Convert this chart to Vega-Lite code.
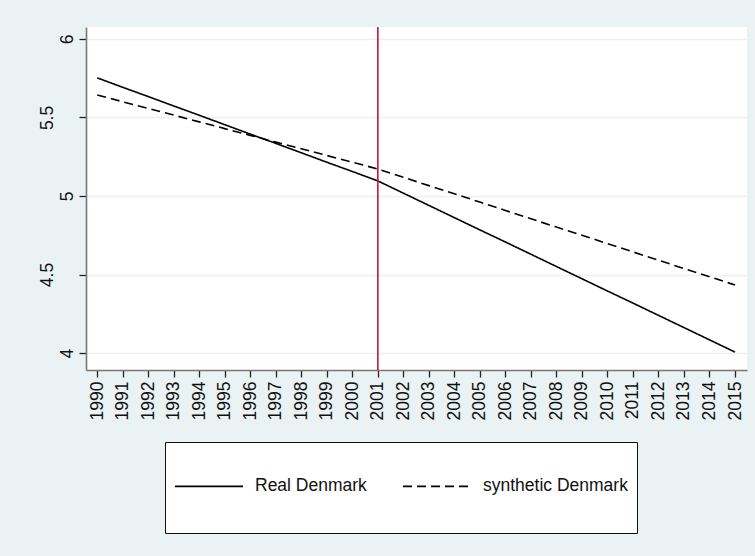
{
  "$schema": "https://vega.github.io/schema/vega-lite/v6.json",
  "autosize": {"type": "none"},
  "width": 661,
  "height": 343,
  "padding": {"left": 86, "top": 27, "right": 8, "bottom": 186},
  "background": "#EAF2F3",
  "config": {
    "view": {"fill": "white", "stroke": null},
    "font": "Liberation Sans"
  },
  "datasets": {
    "series": [
      {"year": 1990, "series": "Real Denmark", "value": 5.752},
      {"year": 1991, "series": "Real Denmark", "value": 5.692},
      {"year": 1992, "series": "Real Denmark", "value": 5.633},
      {"year": 1993, "series": "Real Denmark", "value": 5.573},
      {"year": 1994, "series": "Real Denmark", "value": 5.514},
      {"year": 1995, "series": "Real Denmark", "value": 5.454},
      {"year": 1996, "series": "Real Denmark", "value": 5.394},
      {"year": 1997, "series": "Real Denmark", "value": 5.335},
      {"year": 1998, "series": "Real Denmark", "value": 5.275},
      {"year": 1999, "series": "Real Denmark", "value": 5.215},
      {"year": 2000, "series": "Real Denmark", "value": 5.156},
      {"year": 2001, "series": "Real Denmark", "value": 5.096},
      {"year": 2002, "series": "Real Denmark", "value": 5.018},
      {"year": 2003, "series": "Real Denmark", "value": 4.940},
      {"year": 2004, "series": "Real Denmark", "value": 4.862},
      {"year": 2005, "series": "Real Denmark", "value": 4.784},
      {"year": 2006, "series": "Real Denmark", "value": 4.707},
      {"year": 2007, "series": "Real Denmark", "value": 4.629},
      {"year": 2008, "series": "Real Denmark", "value": 4.551},
      {"year": 2009, "series": "Real Denmark", "value": 4.473},
      {"year": 2010, "series": "Real Denmark", "value": 4.395},
      {"year": 2011, "series": "Real Denmark", "value": 4.318},
      {"year": 2012, "series": "Real Denmark", "value": 4.240},
      {"year": 2013, "series": "Real Denmark", "value": 4.162},
      {"year": 2014, "series": "Real Denmark", "value": 4.084},
      {"year": 2015, "series": "Real Denmark", "value": 4.006},
      {"year": 1990, "series": "synthetic Denmark", "value": 5.643},
      {"year": 1991, "series": "synthetic Denmark", "value": 5.600},
      {"year": 1992, "series": "synthetic Denmark", "value": 5.557},
      {"year": 1993, "series": "synthetic Denmark", "value": 5.515},
      {"year": 1994, "series": "synthetic Denmark", "value": 5.472},
      {"year": 1995, "series": "synthetic Denmark", "value": 5.429},
      {"year": 1996, "series": "synthetic Denmark", "value": 5.386},
      {"year": 1997, "series": "synthetic Denmark", "value": 5.343},
      {"year": 1998, "series": "synthetic Denmark", "value": 5.301},
      {"year": 1999, "series": "synthetic Denmark", "value": 5.258},
      {"year": 2000, "series": "synthetic Denmark", "value": 5.215},
      {"year": 2001, "series": "synthetic Denmark", "value": 5.172},
      {"year": 2002, "series": "synthetic Denmark", "value": 5.119},
      {"year": 2003, "series": "synthetic Denmark", "value": 5.066},
      {"year": 2004, "series": "synthetic Denmark", "value": 5.014},
      {"year": 2005, "series": "synthetic Denmark", "value": 4.961},
      {"year": 2006, "series": "synthetic Denmark", "value": 4.908},
      {"year": 2007, "series": "synthetic Denmark", "value": 4.855},
      {"year": 2008, "series": "synthetic Denmark", "value": 4.802},
      {"year": 2009, "series": "synthetic Denmark", "value": 4.750},
      {"year": 2010, "series": "synthetic Denmark", "value": 4.697},
      {"year": 2011, "series": "synthetic Denmark", "value": 4.644},
      {"year": 2012, "series": "synthetic Denmark", "value": 4.591},
      {"year": 2013, "series": "synthetic Denmark", "value": 4.538},
      {"year": 2014, "series": "synthetic Denmark", "value": 4.486},
      {"year": 2015, "series": "synthetic Denmark", "value": 4.433}
    ],
    "treatment": [{"year": 2001}]
  },
  "encoding": {
    "x": {
      "field": "year", "type": "quantitative",
      "scale": {"domain": [1989.56, 2015.47], "nice": false, "zero": false},
      "axis": {
        "title": null,
        "values": [1990,1991,1992,1993,1994,1995,1996,1997,1998,1999,2000,2001,2002,2003,2004,2005,2006,2007,2008,2009,2010,2011,2012,2013,2014,2015],
        "format": "d",
        "grid": false,
        "labelAngle": 270,
        "labelAlign": "right",
        "labelBaseline": "middle",
        "labelFontSize": 17.5,
        "labelColor": "#111",
        "labelPadding": 4,
        "labelOverlap": false,
        "labelFlush": false,
        "tickSize": 7,
        "tickColor": "#222",
        "tickWidth": 1.3,
        "domainColor": "#777",
        "domainWidth": 1.6
      }
    }
  },
  "layer": [
    {
      "data": {"name": "series"},
      "mark": {"type": "line", "strokeWidth": 1.6, "color": "black"},
      "encoding": {
        "y": {
          "field": "value", "type": "quantitative",
          "scale": {"domain": [3.892, 6.076], "nice": false, "zero": false},
          "axis": {
            "title": null,
            "values": [4, 4.5, 5, 5.5, 6],
            "format": "~g",
            "grid": true,
            "gridColor": "#EAF2F3",
            "gridWidth": 1.5,
            "labelAngle": 270,
            "labelAlign": "center",
            "labelBaseline": "alphabetic",
            "labelFontSize": 17.5,
            "labelColor": "#111",
            "labelPadding": {"condition": {"test": "datum.value == 4.5 || datum.value == 5.5", "value": 27}, "value": 7},
            "labelOverlap": false,
            "labelFlush": false,
            "tickSize": 7,
            "tickColor": "#222",
            "tickWidth": 1.3,
            "domainColor": "#777",
            "domainWidth": 1.6
          }
        },
        "strokeDash": {
          "field": "series", "type": "nominal",
          "scale": {"domain": ["Real Denmark", "synthetic Denmark"], "range": [[1, 0], [9, 5]]},
          "legend": {
            "title": null,
            "orient": "none",
            "legendX": 79,
            "legendY": 415,
            "direction": "horizontal",
            "fillColor": "white",
            "strokeColor": "#111",
            "padding": 9,
            "symbolType": "M-1,-1M-1,0L1,0M-1,1",
            "symbolSize": 4624,
            "symbolFillColor": "transparent",
            "symbolStrokeColor": "black",
            "symbolStrokeWidth": 1.6,
            "labelFontSize": 17.5,
            "labelColor": "#111",
            "labelOffset": 11,
            "labelLimit": 400,
            "columnPadding": 32
          }
        }
      }
    },
    {
      "data": {"name": "treatment"},
      "mark": {"type": "rule", "color": "#C8143C", "strokeWidth": 1.6},
      "encoding": {}
    }
  ]
}
